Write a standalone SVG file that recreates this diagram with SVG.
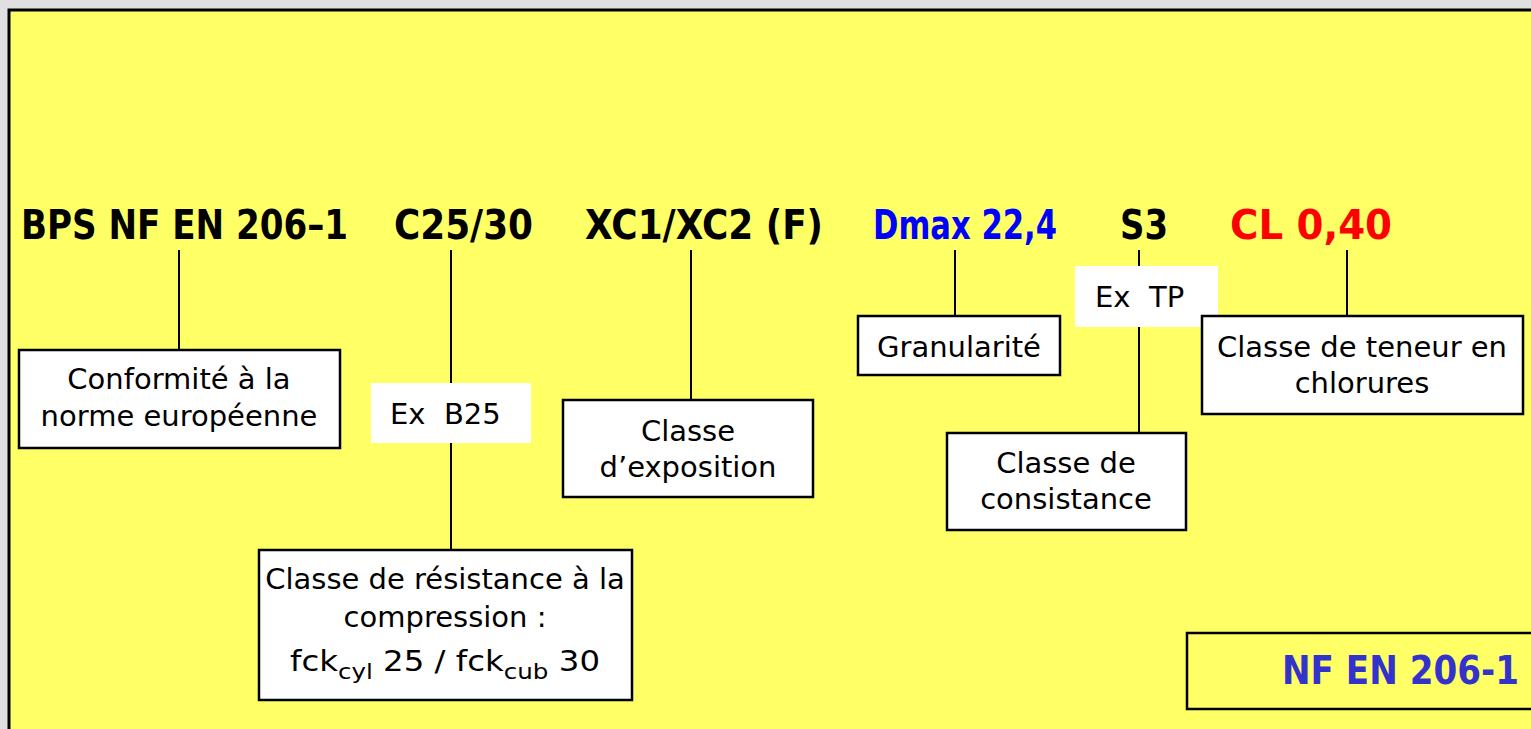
<svg xmlns="http://www.w3.org/2000/svg" width="1531" height="729" viewBox="0 0 1531 729">
<style>
.box{fill:#ffffff;stroke:#000000;stroke-width:2.5}
.wbox{fill:#ffffff;stroke:none}
.t{font-family:"DejaVu Sans",Verdana,sans-serif;font-size:29px;fill:#000000}
.c{text-anchor:middle}
.h{font-family:"DejaVu Sans",Verdana,sans-serif;font-size:40px;font-weight:bold}
.conn line{stroke:#000000;stroke-width:2}
</style>
<rect x="0" y="0" width="1531" height="729" fill="#e0e0e0"/>
<rect x="9" y="10" width="1530" height="730" fill="#ffff66" stroke="#000000" stroke-width="3"/>
<g id="title">
<text class="h" x="21" y="239" fill="#000000" textLength="327" lengthAdjust="spacingAndGlyphs">BPS NF EN 206–1</text>
<text class="h" x="394" y="239" fill="#000000" textLength="139" lengthAdjust="spacingAndGlyphs">C25/30</text>
<text class="h" x="585" y="239" fill="#000000" textLength="238" lengthAdjust="spacingAndGlyphs">XC1/XC2 (F)</text>
<text class="h" x="873" y="239" fill="#0000ff" textLength="184" lengthAdjust="spacingAndGlyphs">Dmax 22,4</text>
<text class="h" x="1120" y="239" fill="#000000" textLength="48" lengthAdjust="spacingAndGlyphs">S3</text>
<text class="h" x="1230" y="239" fill="#ff0000" textLength="162" lengthAdjust="spacingAndGlyphs">CL 0,40</text>
</g>
<g id="connectors" class="conn">
<line x1="179" y1="250" x2="179" y2="350"/>
<line x1="451" y1="250" x2="451" y2="383"/>
<line x1="451" y1="443" x2="451" y2="550"/>
<line x1="691" y1="250" x2="691" y2="400"/>
<line x1="955" y1="250" x2="955" y2="316"/>
<line x1="1139" y1="250" x2="1139" y2="266"/>
<line x1="1139" y1="327" x2="1139" y2="433"/>
<line x1="1347" y1="250" x2="1347" y2="316"/>
</g>
<g id="conformite">
<rect class="box" x="19" y="350" width="321" height="98"/>
<text class="t c" x="179" y="389">Conformité à la</text>
<text class="t c" x="179" y="426">norme européenne</text>
</g>
<g id="exb25">
<rect class="wbox" x="371" y="383" width="160" height="60"/>
<text class="t" x="390" y="424">Ex&#160; B25</text>
</g>
<g id="resistance">
<rect class="box" x="259" y="550" width="373" height="150"/>
<text class="t c" x="445" y="589">Classe de résistance à la</text>
<text class="t c" x="445" y="627">compression :</text>
<text class="t" x="290" y="671" font-size="36" textLength="310" lengthAdjust="spacingAndGlyphs">fck<tspan font-size="22" dy="8">cyl</tspan><tspan dy="-8"> 25 / fck</tspan><tspan font-size="22" dy="8">cub</tspan><tspan dy="-8"> 30</tspan></text>
</g>
<g id="exposition">
<rect class="box" x="563" y="400" width="250" height="97"/>
<text class="t c" x="688" y="441">Classe</text>
<text class="t c" x="688" y="477">d’exposition</text>
</g>
<g id="granularite">
<rect class="box" x="858" y="316" width="202" height="59"/>
<text class="t c" x="959" y="357">Granularité</text>
</g>
<g id="extp">
<rect class="wbox" x="1075" y="266" width="143" height="61"/>
<text class="t" x="1095" y="307">Ex&#160; TP</text>
</g>
<g id="consistance">
<rect class="box" x="947" y="433" width="239" height="97"/>
<text class="t c" x="1066" y="473">Classe de</text>
<text class="t c" x="1066" y="509">consistance</text>
</g>
<g id="chlorures">
<rect class="box" x="1202" y="316" width="321" height="98"/>
<text class="t c" x="1362" y="357">Classe de teneur en</text>
<text class="t c" x="1362" y="393">chlorures</text>
</g>
<g id="norme">
<path d="M1531,633 H1187 V709 H1531" fill="none" stroke="#000000" stroke-width="2.5"/>
<text x="1519" y="684" text-anchor="end" font-family="DejaVu Sans, Verdana, sans-serif" font-size="39" font-weight="bold" fill="#3333cc" textLength="237" lengthAdjust="spacingAndGlyphs">NF EN 206-1</text>
</g>
</svg>
